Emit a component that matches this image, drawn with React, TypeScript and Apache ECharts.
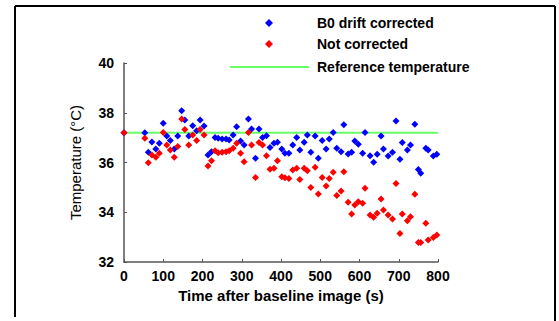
import React, { useEffect, useRef } from "react";
import * as echarts from "echarts";

const times = [0, 53, 62, 71, 81, 90, 100, 109, 118, 128, 137, 147, 155, 165, 175, 185, 194, 204, 214, 223, 232, 240, 250, 260, 268, 278, 287, 297, 306, 317, 325, 335, 344, 353, 363, 372, 382, 391, 402, 410, 420, 430, 440, 448, 459, 467, 476, 487, 495, 505, 515, 523, 533, 542, 553, 560, 571, 580, 588, 597, 608, 614, 627, 636, 645, 655, 661, 673, 684, 693, 703, 709, 722, 730, 741, 750, 756, 769, 775, 788, 797];

const corrected = [37.2, 37.2, 36.41, 36.82, 36.54, 36.77, 37.58, 37.07, 36.88, 36.54, 37.07, 38.08, 37.71, 37.07, 37.48, 37.28, 37.71, 37.47, 36.3, 36.43, 37.01, 36.97, 36.94, 36.94, 36.9, 37.11, 37.44, 36.86, 36.7, 37.75, 37.35, 36.17, 37.35, 37.01, 37.08, 36.6, 36.77, 36.81, 36.54, 36.37, 36.37, 36.7, 37.01, 36.5, 36.81, 37.11, 36.41, 37.07, 36.17, 36.88, 36.54, 36.94, 37.21, 36.57, 36.43, 37.52, 36.34, 36.41, 36.86, 36.73, 36.37, 37.21, 36.27, 36.01, 36.33, 37.07, 36.54, 36.26, 36.41, 37.67, 36.13, 36.8, 36.5, 36.7, 37.54, 35.72, 35.57, 36.57, 36.5, 36.26, 36.33];

const notCorrected = [37.2, 36.97, 35.99, 36.3, 36.21, 36.37, 37.21, 36.7, 36.5, 36.21, 36.64, 37.75, 37.33, 36.7, 37.11, 36.88, 37.33, 37.11, 35.86, 36.07, 36.47, 36.39, 36.41, 36.43, 36.47, 36.57, 36.77, 36.37, 36.03, 37.21, 36.7, 35.4, 36.8, 36.7, 36.27, 35.73, 35.77, 36.07, 35.43, 35.39, 35.36, 35.7, 35.77, 35.32, 35.77, 35.67, 34.99, 35.81, 34.73, 35.4, 35.06, 35.36, 35.61, 34.67, 34.85, 35.63, 34.4, 33.93, 34.29, 34.42, 34.36, 34.96, 33.89, 33.8, 33.96, 34.53, 34.09, 33.89, 33.73, 35.16, 33.15, 33.93, 33.66, 33.82, 34.72, 32.78, 32.78, 33.56, 32.88, 32.98, 33.09];

const referenceTimes = [0, 800];
const referenceTemp = [37.2, 37.2];

const seriesNames = ["B0 drift corrected", "Not corrected", "Reference temperature"];

export default function App() {
  const ref = useRef<HTMLDivElement>(null);
  useEffect(() => {
    if (!ref.current) return;
    const chart = echarts.init(ref.current, undefined, { renderer: "svg" });
    const font = "Arial, 'Liberation Sans', sans-serif";
    chart.setOption({
      animation: false,
      backgroundColor: "#ffffff",
      grid: { left: 124, right: 121, top: 63, bottom: 59 },
      xAxis: {
        type: "value",
        min: 0,
        max: 800,
        interval: 100,
        name: "Time after baseline image (s)",
        nameLocation: "middle",
        nameGap: 25,
        nameTextStyle: { fontFamily: font, fontSize: 15, fontWeight: "bold", color: "#000" },
        axisLine: { lineStyle: { color: "#555", width: 1.5 } },
        axisTick: { inside: true, length: 3, lineStyle: { color: "#555" } },
        axisLabel: { margin: 7, fontFamily: font, fontSize: 14, fontWeight: "bold", color: "#000" },
        splitLine: { show: false },
      },
      yAxis: {
        type: "value",
        min: 32,
        max: 40,
        interval: 2,
        name: "Temperature (°C)",
        nameLocation: "middle",
        nameGap: 41,
        nameTextStyle: { fontFamily: font, fontSize: 15, color: "#000" },
        axisLine: { show: true, lineStyle: { color: "#555", width: 1.5 } },
        axisTick: { show: true, inside: true, length: 3, lineStyle: { color: "#555" } },
        axisLabel: { margin: 10, fontFamily: font, fontSize: 14, fontWeight: "bold", color: "#000" },
        splitLine: { show: false },
      },
      legend: [
        {
          data: [seriesNames[0], seriesNames[1]],
          orient: "vertical",
          left: 265,
          top: 16,
          padding: 0,
          itemWidth: 8,
          itemHeight: 8,
          itemGap: 7,
          textStyle: { fontFamily: font, fontSize: 14, fontWeight: "bold", color: "#000", padding: [0, 0, 0, 39] },
        },
        {
          data: [{ name: seriesNames[2], icon: "rect" }],
          left: 230,
          top: 60,
          padding: 0,
          itemWidth: 79,
          itemHeight: 2,
          textStyle: { fontFamily: font, fontSize: 14, fontWeight: "bold", color: "#000", padding: [0, 0, 0, 3] },
        },
      ],
      graphic: [
        { type: "line", shape: { x1: 15, y1: 6, x2: 555, y2: 6 }, style: { stroke: "#000", lineWidth: 2 } },
        { type: "line", shape: { x1: 15, y1: 6, x2: 15, y2: 317 }, style: { stroke: "#000", lineWidth: 2 } },
        { type: "line", shape: { x1: 555, y1: 6, x2: 555, y2: 321 }, style: { stroke: "#000", lineWidth: 2 } },
      ],
      series: [
        {
          name: seriesNames[2],
          type: "line",
          symbol: "none",
          data: referenceTimes.map((t, i) => [t, referenceTemp[i]]),
          lineStyle: { color: "#66ff66", width: 2 },
          itemStyle: { color: "#66ff66" },
          z: 1,
        },
        {
          name: seriesNames[0],
          type: "scatter",
          symbol: "diamond",
          symbolSize: 7,
          data: times.map((t, i) => [t, corrected[i]]),
          itemStyle: { color: "#0000ff", opacity: 1 },
          z: 2,
        },
        {
          name: seriesNames[1],
          type: "scatter",
          symbol: "diamond",
          symbolSize: 7,
          data: times.map((t, i) => [t, notCorrected[i]]),
          itemStyle: { color: "#ff0000", opacity: 1 },
          z: 3,
        },
      ],
    });
    return () => chart.dispose();
  }, []);
  return <div ref={ref} style={{ width: 559, height: 321, position: "fixed", left: 0, top: 0 }} />;
}
